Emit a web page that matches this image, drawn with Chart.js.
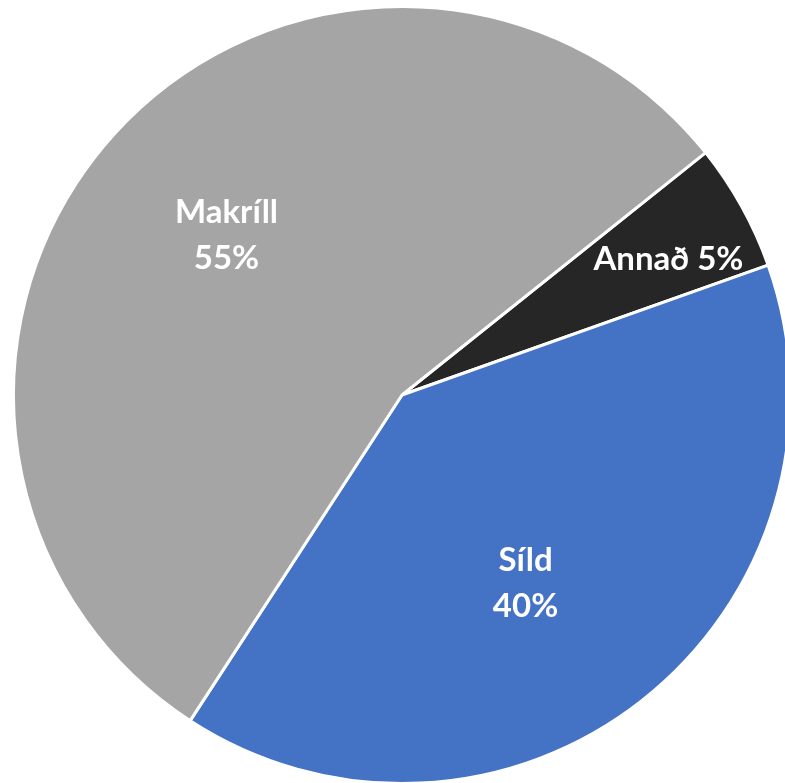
<!DOCTYPE html>
<html>
<head>
<meta charset="utf-8">
<script src="https://cdn.jsdelivr.net/npm/chart.js@4.4.1/dist/chart.umd.min.js"></script>
<style>
  html, body { margin: 0; padding: 0; background: #fff; overflow: hidden; width: 785px; height: 783px; }
  #wrap { position: absolute; left: 12px; top: 5px; width: 780px; height: 780px; }
</style>
</head>
<body>
<div id="wrap"><canvas id="pie"></canvas></div>
<script>
// slices, in drawing order (clockwise from the start angle)
const categories = ['Annað', 'Síld', 'Makríll'];
const shares = [5.3, 39.6, 55.1];
const sliceColors = ['#262626', '#4472C4', '#A5A5A5'];

// label placement: fraction of radius and angle nudge (degrees)
const labelRadius = [0.77, 0.58, 0.61];
const labelNudge = [2, 5, 0];
const labelOneLine = [true, false, false];

// draw "name NN%" inside each slice, like the spreadsheet data labels
const sliceLabels = {
    id: 'sliceLabels',
    afterDatasetsDraw(chart) {
        const ctx = chart.ctx;
        const meta = chart.getDatasetMeta(0);
        const data = chart.data.datasets[0].data;
        const total = data.reduce((a, b) => a + b, 0);
        ctx.save();
        ctx.fillStyle = '#ffffff';
        ctx.font = 'bold 33px Lato';
        ctx.textAlign = 'center';
        ctx.textBaseline = 'middle';
        meta.data.forEach((arc, i) => {
            const p = arc.getProps(['x', 'y', 'startAngle', 'endAngle', 'outerRadius'], true);
            const mid = (p.startAngle + p.endAngle) / 2 + labelNudge[i] * Math.PI / 180;
            const r = p.outerRadius * labelRadius[i];
            const cx = p.x + Math.cos(mid) * r;
            const cy = p.y + Math.sin(mid) * r;
            const pct = Math.round(data[i] / total * 100) + '%';
            const name = chart.data.labels[i];
            if (labelOneLine[i]) {
                ctx.fillText(name + ' ' + pct, cx, cy);
            } else {
                ctx.fillText(name, cx, cy - 23);
                ctx.fillText(pct, cx, cy + 23);
            }
        });
        ctx.restore();
    }
};

new Chart(document.getElementById('pie'), {
    type: 'pie',
    data: {
        labels: categories,
        datasets: [{
            data: shares,
            backgroundColor: sliceColors,
            borderColor: '#ffffff',
            borderWidth: 3,
            hoverOffset: 0
        }]
    },
    options: {
        responsive: true,
        maintainAspectRatio: false,
        animation: false,
        rotation: 51.4,
        layout: { padding: 0 },
        plugins: {
            legend: { display: false },
            tooltip: { enabled: false }
        }
    },
    plugins: [sliceLabels]
});
</script>
</body>
</html>
